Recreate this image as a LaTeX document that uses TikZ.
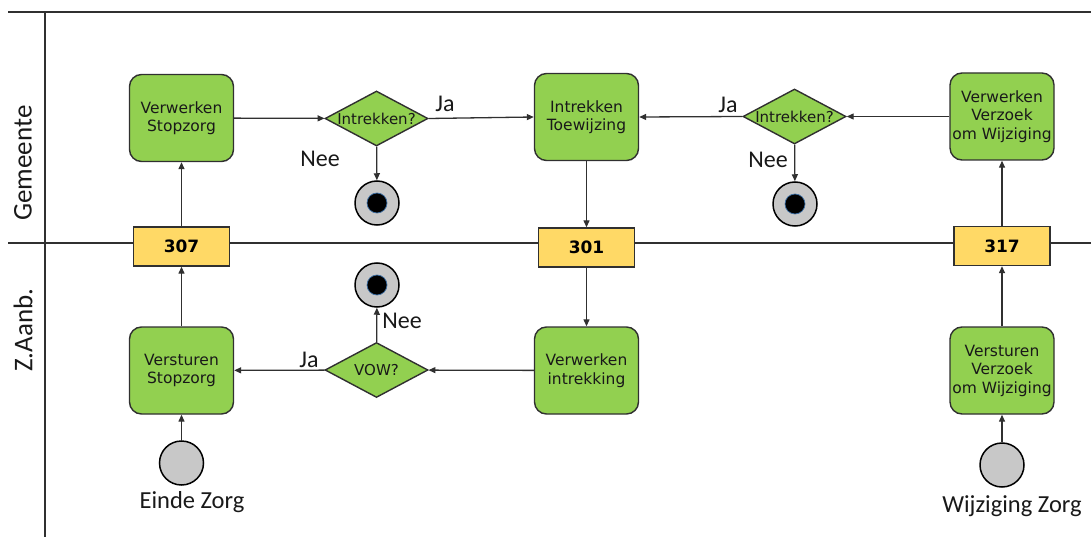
\documentclass[tikz,border=0pt]{standalone}
\usepackage{fontspec}
\setmainfont{Carlito}
\newfontfamily\vfont{DejaVu Sans}
\usetikzlibrary{shapes.geometric,arrows.meta}
\definecolor{taskgreen}{HTML}{92D050}
\definecolor{msgyellow}{HTML}{FFD966}
\definecolor{evgray}{HTML}{C8C8C8}
\definecolor{linegray}{HTML}{303030}
\definecolor{ringblue}{HTML}{3A6EA5}
\begin{document}
\begin{tikzpicture}[x=1pt,y=-1pt,
  task/.style={draw=linegray,line width=1.4pt,fill=taskgreen,rounded corners=12pt,
    minimum width=104pt,minimum height=87pt,inner sep=0pt,align=center,
    text=black!90,font=\vfont\fontsize{15.5}{18.5}\selectfont},
  msg/.style={draw=linegray,line width=1.4pt,fill=msgyellow,minimum width=96pt,
    minimum height=39pt,inner sep=0pt,font=\vfont\bfseries\fontsize{17}{20}\selectfont},
  gate/.style={diamond,draw=linegray,line width=1.4pt,fill=taskgreen,minimum width=103pt,
    minimum height=55pt,inner sep=0pt,text=black!90,font=\vfont\fontsize{15}{18}\selectfont},
  endev/.style={circle,draw=black,line width=1.5pt,fill=evgray,minimum size=44pt,inner sep=0pt,
    path picture={\fill[black] (path picture bounding box.center) circle (10pt);
      \draw[ringblue,line width=0.7pt] (path picture bounding box.center) circle (10pt);}},
  startev/.style={circle,draw=black,line width=1.5pt,fill=evgray,minimum size=44pt,inner sep=0pt},
  flow/.style={draw=linegray,line width=1.3pt,-{Triangle[length=7pt,width=6pt]}},
  lane/.style={draw=linegray,line width=1.3pt},
  lbl/.style={font=\fontsize{24}{27}\selectfont,text=black!90,inner sep=0pt},
  lanelbl/.style={font=\fontsize{27}{30}\selectfont,text=black!90,inner sep=0pt,rotate=90},
  evlbl/.style={font=\fontsize{24.5}{28}\selectfont,text=black!90,inner sep=0pt}
]
\useasboundingbox (0,0) rectangle (1091,537);
\fill[white] (0,0) rectangle (1091,537);

% swimlane lines
\coordinate (tl) at (8,12);
\coordinate (tr) at (1091,12);
\coordinate (vt) at (45,12);
\coordinate (vb) at (45,537);
\coordinate (ml) at (8,243);
\coordinate (mr) at (1091,243);
\draw[lane] (tl) -- (tr);
\draw[lane] (vt) -- (vb);
\draw[lane] (ml) -- (mr);

\node[lanelbl] (lg) at (23,163) {Gemeente};
\node[lanelbl] (lz) at (23,330) {Z.Aanb.};

% upper lane
\node[task] (vs) at (181.5,118) {Verwerken\\Stopzorg};
\node[gate] (d1) at (376.5,118.5) {\makebox[0pt]{Intrekken?}};
\node[endev] (e1) at (377,203) {};
\node[task] (it) at (586.5,117) {Intrekken\\Toewijzing};
\node[gate] (d2) at (794.5,116.5) {\makebox[0pt]{Intrekken?}};
\node[endev] (e2) at (795,204) {};
\node[task] (vv) at (1002,116.5) {Verwerken\\Verzoek\\om Wijziging};

% messages
\node[msg] (m307) at (181.5,246.5) {307};
\node[msg] (m301) at (586.5,247.5) {301};
\node[msg] (m317) at (1002,246) {317};

% lower lane
\node[task] (ss) at (181.5,370.5) {Versturen\\Stopzorg};
\node[gate] (vow) at (376.5,370) {\makebox[0pt]{VOW?}};
\node[endev] (e3) at (377,285) {};
\node[task] (vi) at (586.5,370.5) {Verwerken\\intrekking};
\node[task] (svw) at (1002,370.5) {Versturen\\Verzoek\\om Wijziging};
\node[startev] (s1) at (181.5,463) {};
\node[startev] (s2) at (1002,465) {};
\node[evlbl] (s1l) at (192,502) {Einde Zorg};
\node[evlbl] (s2l) at (1012,506) {Wijziging Zorg};

% flows
\draw[flow] (m307) -- (vs);
\draw[flow] (vs) -- (d1);
\draw[flow] (d1) -- (e1);
\draw[flow] (d1.east) -- (it.west);
\draw[flow] (vv) -- (d2);
\draw[flow] (d2.west) -- (it.east);
\draw[flow] (d2) -- (e2);
\draw[flow] (it) -- (m301);
\draw[flow] (m301) -- (vi);
\draw[flow] (vi) -- (vow);
\draw[flow] (vow) -- (e3);
\draw[flow] (vow) -- (ss);
\draw[flow] (ss) -- (m307);
\draw[flow] (s1) -- (ss);
\draw[flow] (s2) -- (svw);
\draw[flow] (svw) -- (m317);
\draw[flow] (m317) -- (vv);

% flow labels
\node[lbl] (n1) at (320,159) {Nee};
\node[lbl] (j1) at (445,104) {Ja};
\node[lbl] (j2) at (728,105) {Ja};
\node[lbl] (n2) at (768,160) {Nee};
\node[lbl] (n3) at (402,321) {Nee};
\node[lbl] (j3) at (309,360) {Ja};
\end{tikzpicture}
\end{document}
